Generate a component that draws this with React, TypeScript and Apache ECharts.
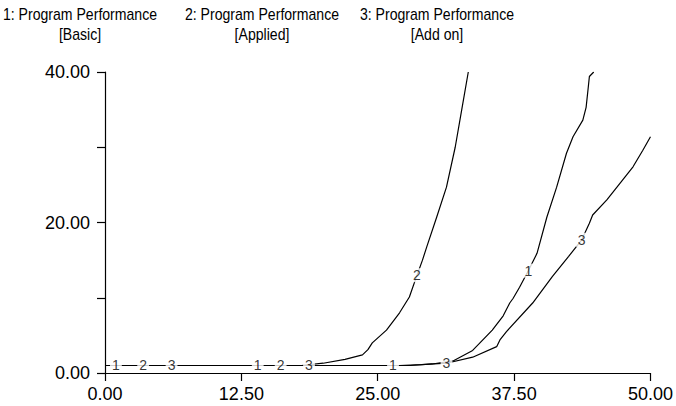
import React, { useEffect, useRef } from "react";
import * as echarts from "echarts";

// Simulation output: [time, value] pairs for each run
const basic: [number, number][] = [
  [0, 1.0], [10, 1.0], [20, 1.0], [28, 1.0], [30, 1.2], [31.9, 1.6], [33.7, 3.0],
  [35.5, 5.7], [36.5, 7.6], [37.1, 9.3], [37.4, 9.9], [38.0, 11.4], [38.8, 13.6],
  [39.6, 15.9], [40.5, 20.7], [41.4, 24.7], [42.3, 29.2], [42.9, 31.4], [43.8, 33.6],
  [44.1, 35.3], [44.3, 38.0], [44.4, 39.4], [44.8, 40.0],
];
const applied: [number, number][] = [
  [0, 1.0], [10, 1.0], [18, 1.0], [20, 1.3], [22, 1.8], [23.6, 2.4], [24.1, 3.1],
  [24.5, 4.0], [25.8, 5.7], [27.0, 8.0], [27.9, 10.1], [28.6, 13.0], [29.1, 15.0],
  [29.5, 16.8], [30.4, 20.7], [31.3, 24.7], [32.1, 30.0], [32.7, 35.0], [33.3, 40.0],
];
const addOn: [number, number][] = [
  [0, 1.0], [10, 1.0], [20, 1.0], [27, 1.0], [29, 1.1], [31.3, 1.3], [33.7, 2.1],
  [35.9, 3.5], [36.2, 4.4], [36.8, 5.5], [39.2, 9.3], [41.0, 12.8], [42.5, 15.5],
  [43.7, 17.7], [44.4, 19.9], [44.7, 21.0], [46.0, 23.0], [47.2, 25.2], [48.4, 27.4],
  [49.3, 29.6], [50.0, 31.4],
];

const seriesNames = ["Program Performance [Basic]", "Program Performance [Applied]", "Program Performance [Add on]"];
const titleLines = [
  ["1: Program Performance", "[Basic]"],
  ["2: Program Performance", "[Applied]"],
  ["3: Program Performance", "[Add on]"],
];
// Times at which the run number is written onto each line
const labelTimes = [
  [1.0, 14.0, 26.4, 38.8],
  [3.5, 16.1, 28.6],
  [6.1, 18.7, 31.3, 43.7],
];
const xTicks = [0, 12.5, 25, 37.5, 50];

const valueAt = (d: [number, number][], t: number) => {
  for (let i = 1; i < d.length; i++) {
    if (t <= d[i][0]) {
      const [t0, v0] = d[i - 1];
      const [t1, v1] = d[i];
      return v0 + ((v1 - v0) * (t - t0)) / (t1 - t0);
    }
  }
  return d[d.length - 1][1];
};

const FONT = "'Liberation Sans', Arial, Helvetica, sans-serif";

export default function App() {
  const ref = useRef<HTMLDivElement>(null);
  useEffect(() => {
    if (!ref.current) return;
    const chart = echarts.init(ref.current, undefined, { renderer: "svg" });
    const runs = [basic, applied, addOn];
    const lineSeries = runs.map((d, i) => ({
      type: "line",
      name: seriesNames[i],
      data: d,
      showSymbol: false,
      symbol: "none",
      lineStyle: { color: "#000", width: 1.2 },
      itemStyle: { color: "#000" },
      z: 2,
    }));
    const labelSeries = runs.map((d, i) => ({
      type: "scatter",
      name: `run ${i + 1}`,
      data: labelTimes[i].map((t) => [t, valueAt(d, t)]),
      symbolSize: 0,
      silent: true,
      z: 5,
      itemStyle: { color: "#000" },
      label: {
        show: true,
        position: "inside",
        formatter: String(i + 1),
        color: "#000",
        textBorderWidth: 0,
        fontFamily: FONT,
        fontSize: 14,
        backgroundColor: "#fff",
        padding: [0, 2],
      },
    }));

    // Run headings: slightly condensed two-line captions above the plot
    const titleCenters = [80, 262, 437];
    const titleRows = [14.5, 34.5];
    const headings = titleLines.flatMap((lines, i) =>
      lines.map((txt, r) => ({
        type: "text",
        x: titleCenters[i],
        y: titleRows[r],
        scaleX: 0.88,
        silent: true,
        style: {
          text: txt,
          fill: "#000",
          font: `16px ${FONT}`,
          align: "center",
          verticalAlign: "middle",
        },
      }))
    );

    chart.setOption({
      animation: false,
      backgroundColor: "#fff",
      graphic: headings,
      grid: { left: 105, right: 25, top: 72, bottom: 33, containLabel: false },
      xAxis: {
        type: "value",
        min: 0,
        max: 50,
        interval: 12.5,
        axisLine: { show: true, lineStyle: { color: "#000", width: 1.2 } },
        axisTick: { show: true, length: 8, inside: false, lineStyle: { color: "#000", width: 1.2 } },
        splitLine: { show: false },
        axisLabel: {
          color: "#000",
          fontFamily: FONT,
          fontSize: 18,
          margin: 12,
          formatter: (v: number) => (xTicks.includes(v) ? v.toFixed(2) : ""),
        },
      },
      yAxis: {
        type: "value",
        min: 0,
        max: 40,
        interval: 10,
        axisLine: { show: true, lineStyle: { color: "#000", width: 1.2 } },
        axisTick: { show: true, length: 8, lineStyle: { color: "#000", width: 1.2 } },
        splitLine: { show: false },
        axisLabel: {
          color: "#000",
          fontFamily: FONT,
          fontSize: 18,
          margin: 15,
          formatter: (v: number) => (v % 20 === 0 ? v.toFixed(2) : ""),
        },
      },
      series: [...lineSeries, ...labelSeries],
    });
    return () => chart.dispose();
  }, []);
  return (
    <div
      ref={ref}
      style={{ position: "fixed", left: 0, top: 0, width: 676, height: 406 }}
    />
  );
}
